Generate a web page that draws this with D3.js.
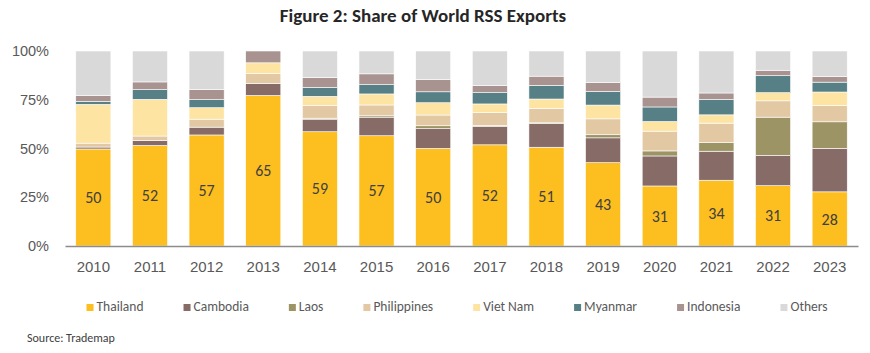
<!DOCTYPE html>
<html>
<head>
<meta charset="utf-8">
<script src="https://cdn.jsdelivr.net/npm/d3@7"></script>
<style>
  body { margin: 0; background: #fff; }
  svg { display: block; font-family: Carlito, Lato, "Liberation Sans", sans-serif; }
</style>
</head>
<body>
<svg id="chart" width="870" height="353"></svg>
<script>
const years = ['2010','2011','2012','2013','2014','2015','2016','2017','2018','2019','2020','2021','2022','2023'];
const countries = ['Thailand','Cambodia','Laos','Philippines','Viet Nam','Myanmar','Indonesia','Others'];

// share of world RSS exports, %
const thailand    = [50, 52, 57, 65, 59, 57, 50, 52, 51, 43, 31, 34, 31, 28];
const cambodia    = [1, 2.5, 4, 5.2, 6.5, 9.6, 10.1, 9.4, 12.3, 12.8, 15.5, 15, 15.5, 22.5];
const laos        = [0, 0, 0, 0, 0.5, 0.7, 1.5, 0.5, 0.3, 1.6, 2.6, 4.6, 19.7, 13.7];
const philippines = [2, 2.4, 4.1, 4.3, 6.5, 5.6, 5.5, 6.7, 7.5, 8.2, 10.2, 9.9, 8.4, 8.4];
const vietnam     = [20, 19, 5.9, 4.6, 4.8, 5.7, 6.3, 4.4, 4.8, 7.1, 5, 4.3, 4.2, 7];
const myanmar     = [1.5, 5, 4.1, 0, 4.6, 4.8, 5.6, 5.8, 7, 7, 7.5, 7.9, 8.7, 5.1];
const indonesia   = [3, 4, 5.2, 5.1, 5.1, 5.6, 6.4, 3.6, 4.8, 4.7, 5.1, 3.4, 2.8, 2.9];
const others      = [23, 16, 19.8, 0, 13.7, 11.8, 14.5, 17.8, 13, 16.2, 23.8, 21.7, 9.9, 13.2];

const colours = ['#fdbe1f','#866b66','#9d9465','#e2c9a4','#fee4a3','#567f86','#a89390','#d9d9d9'];

const series = [thailand, cambodia, laos, philippines, vietnam, myanmar, indonesia, others];
const table = years.map((y, i) => {
    const row = {year: y};
    countries.forEach((c, k) => row[c] = series[k][i]);
    return row;
});

const svg = d3.select('#chart');
const margin = {top: 51, left: 65, right: 12, bottom: 107};
const width = 870 - margin.left - margin.right,
      height = 353 - margin.top - margin.bottom;

const x = d3.scaleBand()
            .domain(years)
            .range([margin.left, margin.left + width])
            .paddingInner(0.38)
            .paddingOuter(0.19);

const y = d3.scaleLinear()
            .domain([0, 1])
            .range([margin.top + height, margin.top]);

const colour = d3.scaleOrdinal().domain(countries).range(colours);

const stacked = d3.stack()
                    .keys(countries)
                    .offset(d3.stackOffsetExpand)(table);

// title
svg.append('text')
    .attr('x', 423)
    .attr('y', 22)
    .attr('text-anchor', 'middle')
    .style('font-size', '19px')
    .style('font-weight', 'bold')
    .attr('fill', '#262626')
    .text('Figure 2: Share of World RSS Exports');

// bars
svg.append('g')
    .selectAll('g')
    .data(stacked)
    .enter()
    .append('g')
        .attr('fill', d => colour(d.key))
    .selectAll('rect')
    .data(d => d)
    .enter()
    .append('rect')
        .attr('x', d => x(d.data.year))
        .attr('width', x.bandwidth())
        .attr('y', d => y(d[1]))
        .attr('height', d => Math.max(0, y(d[0]) - y(d[1])))
        .style('stroke', 'white')
        .style('stroke-width', 0.6);

// Thailand labels
svg.append('g')
    .selectAll('text')
    .data(stacked[0])
    .enter()
    .append('text')
        .attr('x', d => x(d.data.year) + x.bandwidth() / 2)
        .attr('y', d => (y(d[0]) + y(d[1])) / 2)
        .attr('text-anchor', 'middle')
        .attr('dy', '0.35em')
        .style('font-size', '16px')
        .attr('fill', '#404040')
        .text(d => Math.round(d.data.Thailand));

// y axis
const yAxis = svg.append('g')
    .attr('transform', `translate(${margin.left},0)`)
    .call(d3.axisLeft(y).tickValues([0, 0.25, 0.5, 0.75, 1]).tickFormat(d3.format('.0%')).tickSize(0).tickPadding(16));
yAxis.select('.domain').remove();
yAxis.selectAll('text').style('font-size', '14.5px').attr('fill', '#595959').style('font-family', null);

// x axis
const xAxis = svg.append('g')
    .attr('transform', `translate(0,${margin.top + height})`)
    .call(d3.axisBottom(x).tickSize(0).tickPadding(15));
xAxis.select('.domain').attr('stroke', '#8c8c8c').attr('stroke-width', 1.5);
xAxis.selectAll('text').style('font-size', '15px').attr('fill', '#595959').style('font-family', null);

// legend
const legend = svg.append('g');
const items = legend.selectAll('g')
    .data(countries)
    .enter()
    .append('g');
items.append('rect')
    .attr('width', 7)
    .attr('height', 7)
    .attr('y', -7)
    .attr('fill', d => colour(d));
items.append('text')
    .attr('x', 10)
    .style('font-size', '13.5px')
    .attr('fill', '#595959')
    .text(d => d);

let pos = 0;
items.each(function() {
    d3.select(this).attr('transform', `translate(${pos},311)`);
    pos += 10 + d3.select(this).select('text').node().getComputedTextLength() + 40;
});
const legendWidth = pos - 40;
legend.attr('transform', `translate(${457 - legendWidth / 2},0)`);

// source
svg.append('text')
    .attr('x', 27)
    .attr('y', 342)
    .style('font-size', '12px')
    .attr('fill', '#404040')
    .text('Source: Trademap');
</script>
</body>
</html>
